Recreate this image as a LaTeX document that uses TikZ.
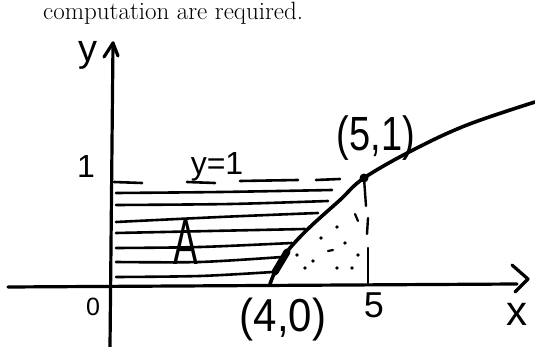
\documentclass[tikz,border=0pt]{standalone}
\usepackage{fontspec}
\newfontfamily\hand{Liberation Sans}
\begin{document}
\begin{tikzpicture}[x=1pt,y=-1pt,line cap=round,line join=round,
  axis/.style={line width=3.2pt},
  hatch/.style={line width=2.6pt},
  thin dash/.style={line width=2.4pt},
  lbl/.style={font=\hand\fontsize{#1}{#1}\selectfont,inner sep=0pt},
  speck/.style={fill=black}]
\useasboundingbox (0,0) rectangle (535,347);
% top text
\node[anchor=base west,inner sep=0pt,font=\fontsize{25}{30}\selectfont] (txt) at (43,20) {computation are required.};
% coordinates
\coordinate (ytop) at (113,43);
\coordinate (ybot) at (110,347);
\coordinate (yal) at (104,57);
\coordinate (yar) at (118,56);
\coordinate (xl) at (8,287);
\coordinate (xr) at (517,284);
\coordinate (xat) at (512,265);
\coordinate (xab) at (515,292);
\coordinate (xtip) at (528,279);
\coordinate (P40) at (270,284);
\coordinate (P51) at (364,178);
\coordinate (X5) at (368,283);
% axes
\draw[axis] (ybot) -- (ytop);
\draw[axis] (yal) -- (ytop) -- (yar);
\draw[axis] (xl) -- (xr);
\draw[axis] (xat) -- (xtip) -- (xab);
% curve
\draw[line width=3.6pt] plot[smooth,tension=0.6] coordinates {(270,284) (278,265) (290,248) (310,227) (340,200) (364,178) (413,150) (467,125) (535,102)};
\draw[line width=7pt] (275,272) -- (287,252);
\fill (P51) circle (4.5);
% y=1 dashed
\draw[hatch] (114,182) -- (142,183);
\draw[hatch] (187,182) -- (215,183);
\draw[hatch] (240,181) -- (298,180);
\draw[hatch] (316,180) -- (340,179);
% hatch lines
\draw[hatch] plot[smooth] coordinates {(116,193) (220,192) (332,190)};
\draw[hatch] plot[smooth] coordinates {(116,205) (230,204) (328,201)};
\draw[hatch] plot[smooth] coordinates {(116,222) (220,217) (318,213)};
\draw[hatch] plot[smooth] coordinates {(116,233) (210,231) (305,229)};
\draw[hatch] plot[smooth] coordinates {(116,248) (200,247) (292,243)};
\draw[hatch] plot[smooth] coordinates {(116,262) (200,262) (282,257)};
\draw[hatch] plot[smooth] coordinates {(116,277) (200,276) (273,272)};
% x=5 dashed
\draw[thin dash] (P51) -- (366,206);
\draw[thin dash] (368,218) -- (367,234);
\draw[thin dash] (368,248) -- (X5);
% dots
\foreach \p in {(337,227),(321,238),(345,243),(358,255),(313,261),(305,268),(337,268),(352,268),(297,255)}
  \fill[speck] \p circle (1.8);
\draw[line width=2.2pt] (355,214) -- (358,221);
\draw[line width=2.2pt] (328,251) -- (333,250);
% labels
\node[lbl=38] (ylab) at (88,55) {y};
\node[lbl=32] (one) at (86,166) {1};
\node[lbl=32] (yeq) at (217,167) {y=1};
\node[lbl=40,xscale=0.95,yscale=1.2] (l51) at (376,138) {(5,1)};
\node[lbl=42,yscale=1.1] (l40) at (283,320) {(4,0)};
\node[lbl=36] (five) at (374,305) {5};
\node[lbl=25] (zero) at (93,307) {0};
\node[lbl=64,xscale=0.58] (A) at (186,242) {A};
\node[lbl=42] (xlab) at (517,314) {x};
\end{tikzpicture}
\end{document}
